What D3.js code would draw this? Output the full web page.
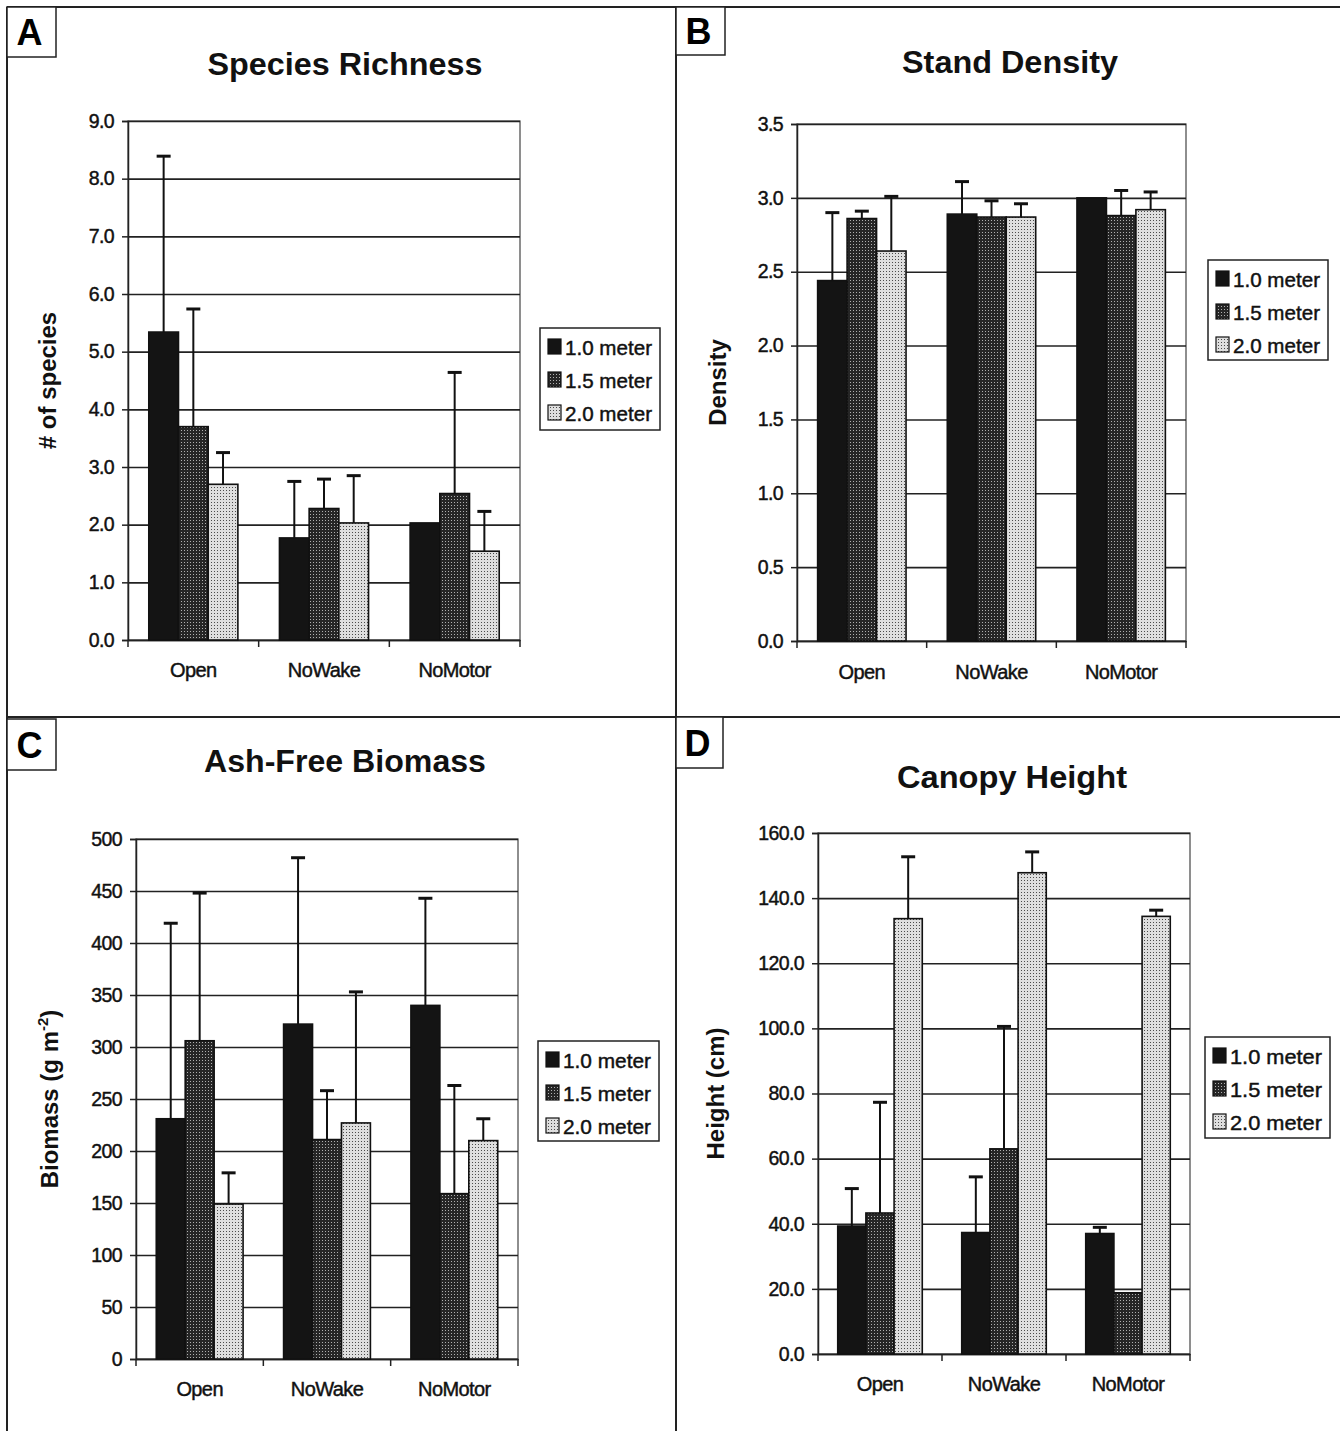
<!DOCTYPE html>
<html><head><meta charset="utf-8">
<script src="https://cdn.jsdelivr.net/npm/d3@7/dist/d3.min.js"></script>
<style>
html,body{margin:0;padding:0;background:#fff;}
svg{display:block;font-family:"Liberation Sans",Arial,sans-serif;}
</style></head>
<body>
<svg id="chart" width="1340" height="1431"></svg>
<script>
// ---------- DATA ----------
const categories = ["Open", "NoWake", "NoMotor"];
const seriesNames = ["1.0 meter", "1.5 meter", "2.0 meter"];

// rows = series (1.0, 1.5, 2.0 m), columns = categories
const richnessMean = [[5.34, 1.77, 2.03], [3.70, 2.28, 2.54], [2.70, 2.03, 1.54]];
const richnessErr  = [[3.05, 0.98, null], [2.04, 0.51, 2.10], [0.55, 0.82, 0.69]];
const richnessTicks = [0, 1, 2, 3, 4, 5, 6, 7, 8, 9];

const densityMean = [[2.44, 2.89, 3.00], [2.86, 2.87, 2.88], [2.64, 2.87, 2.92]];
const densityErr  = [[0.46, 0.22, null], [0.05, 0.11, 0.17], [0.37, 0.09, 0.12]];
const densityTicks = [0, 0.5, 1, 1.5, 2, 2.5, 3, 3.5];

const biomassMean = [[231, 322, 340], [306, 211, 159], [149, 227, 210]];
const biomassErr  = [[188, 160, 103], [142, 47, 104], [30, 126, 21]];
const biomassTicks = [0, 50, 100, 150, 200, 250, 300, 350, 400, 450, 500];

const heightMean = [[39.3, 37.3, 37.0], [43.3, 63.0, 18.8], [133.7, 147.8, 134.4]];
const heightErr  = [[11.5, 17.1, 1.9], [34.0, 37.6, null], [19.0, 6.4, 1.9]];
const heightTicks = [0, 20, 40, 60, 80, 100, 120, 140, 160];

// ---------- LAYOUT ----------
const panels = [
  {letter:"A", title:"Species Richness", ylabel:"# of species", mean:richnessMean, err:richnessErr, ticks:richnessTicks, fmt:".1f",
   plot:{x0:128,x1:520,y0:121,y1:640}, titleXY:[345,75], titleW:275, ylabX:56, ylabW:150, lab:{x:7,y:7,w:49,h:50},
   legend:{x:540,y:328,w:120,h:102}, catY:677},
  {letter:"B", title:"Stand Density", ylabel:"Density", mean:densityMean, err:densityErr, ticks:densityTicks, fmt:".1f",
   plot:{x0:797,x1:1186,y0:124,y1:641}, titleXY:[1010,73], titleW:216, ylabX:726, ylabW:96, lab:{x:676,y:7,w:49,h:48},
   legend:{x:1208,y:260,w:120,h:100}, catY:679},
  {letter:"C", title:"Ash-Free Biomass", ylabel:"Biomass (g m", sup:"-2", ylabel2:")", mean:biomassMean, err:biomassErr, ticks:biomassTicks, fmt:"d",
   plot:{x0:136,x1:518,y0:839,y1:1359}, titleXY:[345,772], titleW:282, ylabX:58, ylabW:200, lab:{x:7,y:719,w:49,h:51},
   legend:{x:538,y:1041,w:121,h:100}, catY:1396},
  {letter:"D", title:"Canopy Height", ylabel:"Height (cm)", mean:heightMean, err:heightErr, ticks:heightTicks, fmt:".1f",
   plot:{x0:818,x1:1190,y0:833,y1:1354}, titleXY:[1012,788], titleW:230, ylabX:724, ylabW:148, lab:{x:676,y:717,w:47,h:51},
   legend:{x:1205,y:1037,w:125,h:101}, catY:1391}
];

const svg = d3.select("#chart");
const defs = svg.append("defs");

// fill patterns
const p15 = defs.append("pattern").attr("id","pat15").attr("patternUnits","userSpaceOnUse").attr("width",3).attr("height",3);
p15.append("rect").attr("width",3).attr("height",3).attr("fill","#262626");
p15.append("rect").attr("x",1).attr("y",1).attr("width",1).attr("height",1).attr("fill","#b0b0b0");
const p20 = defs.append("pattern").attr("id","pat20").attr("patternUnits","userSpaceOnUse").attr("width",3).attr("height",3);
p20.append("rect").attr("width",3).attr("height",3).attr("fill","#dedede");
p20.append("rect").attr("x",1).attr("y",1).attr("width",1).attr("height",1).attr("fill","#4a4a4a");
const fills = ["#141414", "url(#pat15)", "url(#pat20)"];

// frame lines of the figure
const frame = svg.append("g").attr("stroke","#222").attr("stroke-width",2).attr("fill","none");
frame.append("line").attr("x1",7).attr("x2",1340).attr("y1",7).attr("y2",7);
frame.append("line").attr("x1",7).attr("x2",7).attr("y1",7).attr("y2",1431);
frame.append("line").attr("x1",676).attr("x2",676).attr("y1",7).attr("y2",1431);
frame.append("line").attr("x1",7).attr("x2",1340).attr("y1",717).attr("y2",717);

const heavy = s => s.attr("stroke","#111").attr("stroke-width",0.45).attr("paint-order","stroke");

panels.forEach(P => {
  const g = svg.append("g");
  const {x0,x1,y0,y1} = P.plot;
  const y = d3.scaleLinear().domain([P.ticks[0], P.ticks[P.ticks.length-1]]).range([y1,y0]);
  const xb = d3.scaleBand().domain(categories).range([x0,x1]).paddingInner(0).paddingOuter(0);
  const bw = xb.bandwidth()/4.4;
  const xs = d3.scaleBand().domain(d3.range(seriesNames.length)).range([0, 3*bw]);
  const off = (xb.bandwidth() - 3*bw)/2;

  // letter box
  g.append("rect").attr("x",P.lab.x).attr("y",P.lab.y).attr("width",P.lab.w).attr("height",P.lab.h)
    .attr("fill","#fff").attr("stroke","#222").attr("stroke-width",1.5);
  g.append("text").attr("x",P.lab.x+P.lab.w/2-2).attr("y",P.lab.y+P.lab.h/2+13).attr("text-anchor","middle")
    .attr("font-size",36).attr("font-weight","bold").text(P.letter);

  // title
  g.append("text").attr("x",P.titleXY[0]).attr("y",P.titleXY[1]).attr("text-anchor","middle")
    .attr("font-size",31).attr("font-weight","bold").attr("fill","#111")
    .attr("textLength",P.titleW).attr("lengthAdjust","spacingAndGlyphs").text(P.title);

  // plot frame
  g.append("rect").attr("x",x0).attr("y",y0).attr("width",x1-x0).attr("height",y1-y0)
    .attr("fill","none").attr("stroke","#444").attr("stroke-width",1.2);

  // gridlines
  g.append("g").attr("transform",`translate(${x0},0)`)
    .call(d3.axisLeft(y).tickValues(P.ticks).tickSize(-(x1-x0)).tickFormat(""))
    .call(s => { s.select(".domain").remove(); s.selectAll("line").attr("stroke","#222").attr("stroke-width",1.6); });

  // y axis
  g.append("g").attr("transform",`translate(${x0},0)`)
    .call(d3.axisLeft(y).tickValues(P.ticks).tickSize(6).tickPadding(8).tickFormat(d3.format(P.fmt)))
    .call(s => {
      s.select(".domain").attr("stroke","#222").attr("stroke-width",1.5);
      s.selectAll("line").attr("stroke","#222").attr("stroke-width",1.5);
      s.selectAll("text").attr("font-size",19.5).attr("fill","#111").attr("font-family","'Liberation Sans',Arial,sans-serif")
        .attr("letter-spacing",-0.6).call(heavy);
    });

  // x axis
  g.append("g").attr("transform",`translate(0,${y1})`)
    .call(d3.axisBottom(xb).tickSize(0).tickPadding(0).tickFormat(""))
    .call(s => s.select(".domain").attr("stroke","#222").attr("stroke-width",1.5));
  const bounds = categories.map(c => xb(c)).concat([x1]);
  g.selectAll(".bt").data(bounds).join("line").attr("x1",d=>d).attr("x2",d=>d)
    .attr("y1",y1).attr("y2",y1+7).attr("stroke","#222").attr("stroke-width",1.5);
  g.selectAll(".cl").data(categories).join("text")
    .attr("x",c => xb(c)+xb.bandwidth()/2).attr("y",P.catY).attr("text-anchor","middle")
    .attr("font-size",20).attr("letter-spacing",-0.6).attr("fill","#111").call(heavy).text(c=>c);

  // bars
  seriesNames.forEach((sn, si) => {
    const data = categories.map((c, ci) => ({c, v:P.mean[si][ci], e:P.err[si][ci]}));
    g.selectAll(`.bar${si}`).data(data).join("rect")
      .attr("x", d => xb(d.c)+off+xs(si)).attr("width", xs.bandwidth())
      .attr("y", d => y(d.v)).attr("height", d => y(0)-y(d.v))
      .attr("fill", fills[si]).attr("stroke","#111").attr("stroke-width",1.6);
  });
  // error bars
  seriesNames.forEach((sn, si) => {
    const data = categories.map((c, ci) => ({c, v:P.mean[si][ci], e:P.err[si][ci]})).filter(d => d.e != null);
    const cx = d => xb(d.c)+off+xs(si)+xs.bandwidth()/2;
    g.selectAll(`.ev${si}`).data(data).join("line")
      .attr("x1",cx).attr("x2",cx).attr("y1",d=>y(d.v)).attr("y2",d=>y(d.v+d.e))
      .attr("stroke","#111").attr("stroke-width",2);
    g.selectAll(`.ec${si}`).data(data).join("line")
      .attr("x1",d=>cx(d)-7).attr("x2",d=>cx(d)+7).attr("y1",d=>y(d.v+d.e)).attr("y2",d=>y(d.v+d.e))
      .attr("stroke","#111").attr("stroke-width",3);
  });

  // y label
  const ymid = (y0+y1)/2;
  const yl = g.append("text").attr("transform",`translate(${P.ylabX},${ymid}) rotate(-90)`)
    .attr("text-anchor","middle").attr("font-size",24).attr("font-weight","bold").attr("fill","#111");
  yl.append("tspan").text(P.ylabel);
  if (P.sup) {
    yl.append("tspan").attr("font-size",15).attr("dy",-10).text(P.sup);
    yl.append("tspan").attr("dy",10).text(P.ylabel2);
  }

  // legend
  const L = P.legend;
  const lg = g.append("g").attr("transform",`translate(${L.x},${L.y})`);
  lg.append("rect").attr("width",L.w).attr("height",L.h).attr("fill","#fff").attr("stroke","#222").attr("stroke-width",1.5);
  seriesNames.forEach((sn, si) => {
    const ry = 19 + si*33;
    lg.append("rect").attr("x",8).attr("y",ry-8).attr("width",13).attr("height",15)
      .attr("fill",fills[si]).attr("stroke","#111").attr("stroke-width",1.2);
    lg.append("text").attr("x",25).attr("y",ry+8).attr("font-size",21).attr("fill","#111")
      .attr("textLength",L.w-33).attr("lengthAdjust","spacingAndGlyphs").call(heavy).text(sn);
  });
});
</script>
</body></html>
